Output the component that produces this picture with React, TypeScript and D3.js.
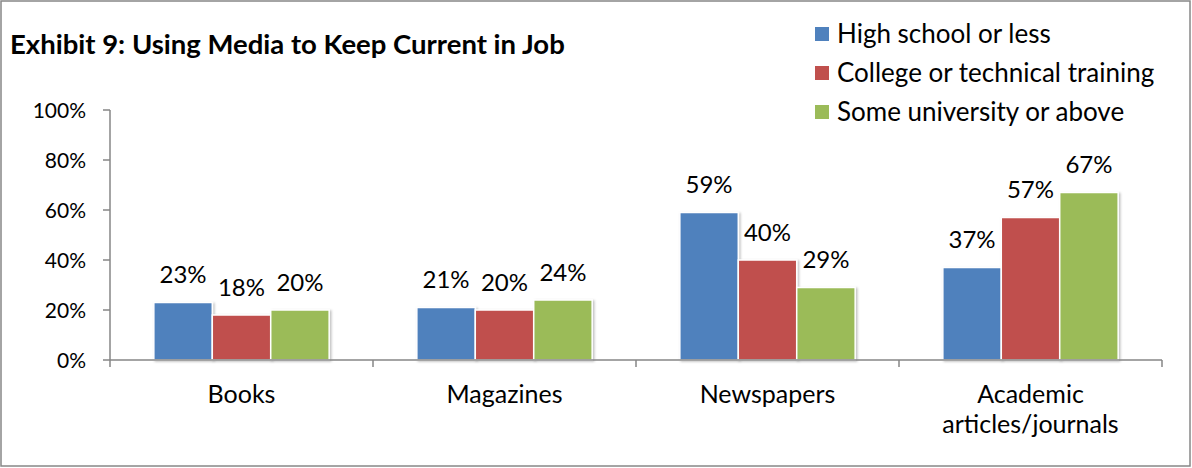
import React from "react";
import * as d3 from "d3";

const categories = ["Books", "Magazines", "Newspapers", "Academic articles/journals"];
const categoryLines = [["Books"], ["Magazines"], ["Newspapers"], ["Academic", "articles/journals"]];
const seriesNames = ["High school or less", "College or technical training", "Some university or above"];
const seriesColors = ["#4F81BD", "#C0504D", "#9BBB59"];
const highSchool = [0.23, 0.21, 0.59, 0.37];
const college = [0.18, 0.2, 0.4, 0.57];
const university = [0.2, 0.24, 0.29, 0.67];
const seriesValues = [highSchool, college, university];
const yTicks = [0, 0.2, 0.4, 0.6, 0.8, 1.0];
const title = "Exhibit 9: Using Media to Keep Current in Job";

const W = 1192;
const H = 468;
const FONT = "Lato, 'Open Sans', sans-serif";

export default function App() {
  const x0 = d3.scaleBand<string>().domain(categories).range([110, 1162]).padding(0);
  const x1 = d3.scaleBand<number>().domain([0, 1, 2]).range([0, x0.bandwidth()]).paddingInner(0).paddingOuter(0.75);
  const y = d3.scaleLinear().domain([0, 1]).range([360, 110]);
  const axisColor = "#868686";
  const fmt = d3.format(".0%");

  return (
    <svg width={W} height={H} style={{ position: "absolute", left: 0, top: 0, fontFamily: FONT }}>
      <defs>
        <filter id="sh" x="-10%" y="-10%" width="130%" height="130%">
          <feDropShadow dx="1.5" dy="1" stdDeviation="1" floodColor="#000" floodOpacity="0.25" />
        </filter>
      </defs>
      <rect x={1} y={1} width={W - 3} height={H - 3} fill="#fff" stroke="#878787" strokeWidth={1.5} />
      <text x={10} y={54} fontSize={27.5} fontWeight="bold" fill="#000">{title}</text>

      {/* legend */}
      {seriesNames.map((s, i) => (
        <g key={s} transform={`translate(815, ${34 + i * 39})`}>
          <rect x={0} y={-7} width={14} height={14} fill={seriesColors[i]} />
          <text x={22} y={0} dy="0.36em" fontSize={26} fill="#000">{s}</text>
        </g>
      ))}

      {/* bars */}
      {categories.map((c, ci) => (
        <g key={c} transform={`translate(${x0(c)},0)`}>
          {seriesValues.map((vals, si) => {
            const v = vals[ci];
            const bx = x1(si)!;
            const bw = x1.bandwidth();
            return (
              <g key={si}>
                <rect x={bx} y={y(v)} width={bw} height={y(0) - y(v)} fill={seriesColors[si]} stroke="#fff" strokeWidth={1.5} filter="url(#sh)" />
                <text x={bx + bw / 2} y={y(v) - 19.5} textAnchor="middle" fontSize={24} fill="#000">{fmt(v)}</text>
              </g>
            );
          })}
        </g>
      ))}

      {/* y axis */}
      <line x1={110} x2={110} y1={y(1)} y2={y(0)} stroke={axisColor} strokeWidth={1.5} />
      {yTicks.map((t) => (
        <g key={t}>
          <line x1={103} x2={110} y1={y(t)} y2={y(t)} stroke={axisColor} strokeWidth={1.5} />
          <text x={86} y={y(t)} dy="0.36em" textAnchor="end" fontSize={21} fill="#000">{fmt(t)}</text>
        </g>
      ))}

      {/* x axis */}
      <line x1={110} x2={1162} y1={y(0)} y2={y(0)} stroke={axisColor} strokeWidth={1.5} />
      {[...categories.map((c) => x0(c)!), x0.range()[1]].map((bx, i) => (
        <line key={i} x1={bx} x2={bx} y1={y(0)} y2={y(0) + 7} stroke={axisColor} strokeWidth={1.5} />
      ))}
      {categories.map((c, ci) => (
        <text key={c} x={x0(c)! + x0.bandwidth() / 2} y={403} textAnchor="middle" fontSize={25} fill="#000">
          {categoryLines[ci].map((ln, li) => (
            <tspan key={li} x={x0(c)! + x0.bandwidth() / 2} y={403 + li * 30}>{ln}</tspan>
          ))}
        </text>
      ))}
    </svg>
  );
}
